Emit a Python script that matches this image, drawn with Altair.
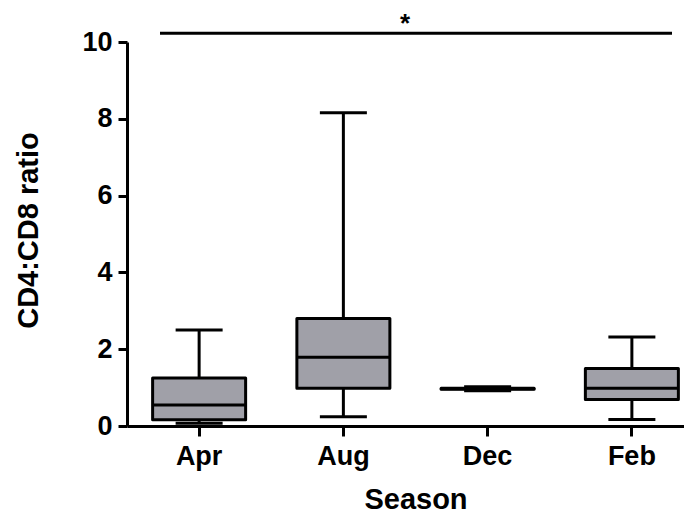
import altair as alt
import pandas as pd

seasons = ["Apr", "Aug", "Dec", "Feb"]
whisker_low = [0.07, 0.24, 0.92, 0.17]
q1 = [0.16, 0.98, 0.96, 0.69]
median = [0.55, 1.79, 0.97, 0.98]
q3 = [1.25, 2.80, 0.98, 1.50]
whisker_high = [2.50, 8.16, 1.02, 2.32]

sig_level = [10.23]
sig_label = ["*"]
sig_text_level = [10.82]

df = pd.DataFrame({
    "Season": seasons,
    "lo": whisker_low,
    "q1": q1,
    "med": median,
    "q3": q3,
    "hi": whisker_high,
})
sig_df = pd.DataFrame({"y": sig_level, "label": sig_label, "ty": sig_text_level})

FONT = "Liberation Sans"
BOX_FILL = "#a0a0a8"

x_enc = alt.X(
    "Season:N",
    sort=seasons,
    scale=alt.Scale(range=[0, 577], paddingInner=0, paddingOuter=0),
    axis=alt.Axis(
        title="Season",
        labelAngle=0,
        labelFont=FONT,
        labelFontWeight="bold",
        labelFontSize=27,
        labelColor="black",
        labelPadding=7,
        titleFont=FONT,
        titleFontWeight="bold",
        titleFontSize=29,
        titleColor="black",
        titleBaseline="alphabetic",
        titleY=82,
        tickSize=10,
        tickWidth=3,
        tickColor="black",
        domainWidth=3,
        domainColor="black",
    ),
)

y_scale = alt.Scale(domain=[0, 10], nice=False)
y_axis = alt.Axis(
    title="CD4:CD8 ratio",
    values=[0, 2, 4, 6, 8, 10],
    labelFont=FONT,
    labelFontWeight="bold",
    labelFontSize=27,
    labelColor="black",
    labelPadding=6,
    titleFont=FONT,
    titleFontWeight="bold",
    titleFontSize=29,
    titleColor="black",
    titleBaseline="middle",
    titleX=-99,
    titleY=188,
    tickSize=9,
    tickWidth=3,
    tickColor="black",
    domainWidth=3,
    domainColor="black",
    grid=False,
)

base = alt.Chart(df)

whiskers = base.mark_rule(color="black", strokeWidth=3).encode(
    x=x_enc,
    y=alt.Y("lo:Q", scale=y_scale, axis=y_axis),
    y2="hi:Q",
)

cap_lo = base.mark_tick(color="black", size=47, thickness=3, opacity=1).encode(
    x=x_enc, y=alt.Y("lo:Q", scale=y_scale)
)
cap_hi = base.mark_tick(color="black", size=47, thickness=3, opacity=1).encode(
    x=x_enc, y=alt.Y("hi:Q", scale=y_scale)
)

boxes = base.mark_bar(size=93, fill=BOX_FILL, stroke="black", strokeWidth=3, strokeJoin="round").encode(
    x=x_enc,
    y=alt.Y("q1:Q", scale=y_scale),
    y2="q3:Q",
)

medians = base.mark_tick(color="black", size=93, thickness=3, opacity=1).encode(
    x=x_enc, y=alt.Y("med:Q", scale=y_scale)
)

sig_line = alt.Chart(sig_df).mark_rule(color="black", strokeWidth=3).encode(
    x=alt.value(33),
    x2=alt.value(545),
    y=alt.Y("y:Q", scale=y_scale),
)
sig_text = alt.Chart(sig_df).mark_text(
    font=FONT, fontWeight="bold", fontSize=26, color="black", baseline="top"
).encode(
    x=alt.value(278),
    y=alt.Y("ty:Q", scale=y_scale),
    text="label:N",
)

chart = alt.layer(whiskers, cap_lo, cap_hi, boxes, medians, sig_line, sig_text).properties(
    width=557,
    height=384,
    autosize=alt.AutoSizeParams(type="none"),
    padding={"left": 119, "top": 34, "right": 0, "bottom": 89},
    background="white",
).configure_view(stroke=None)

chart.save("out.html", embed_options={"renderer": "svg", "actions": False})
